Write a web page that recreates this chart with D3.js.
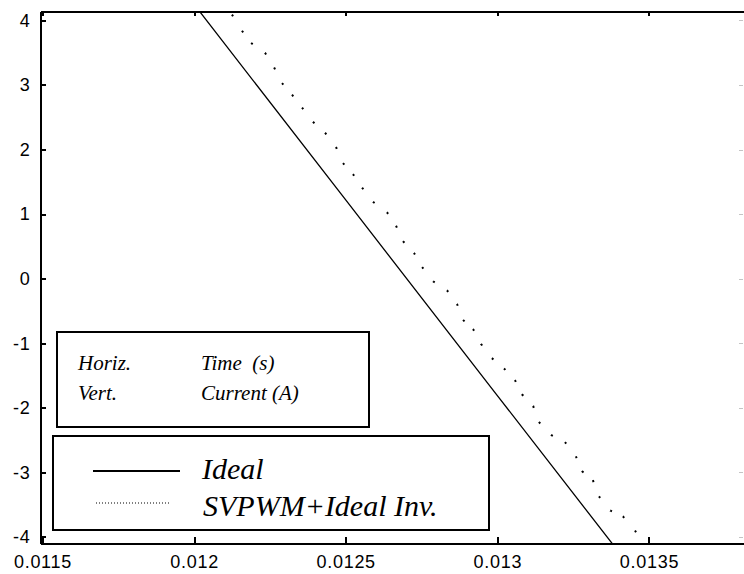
<!DOCTYPE html>
<meta charset="utf-8">
<style>
    body {
        margin: 0;
        background-color: #fff;
    }
    .axis text {
        font: 18px "Liberation Sans", Arial, sans-serif;
        letter-spacing: 0.7px;
        fill: #000;
    }
    .axis path,
    .axis line {
        fill: none;
        stroke: #000;
        stroke-width: 2px;
        shape-rendering: crispEdges;
    }
    .axis--right path {
        stroke: none;
    }
    .axis--right line {
        stroke: #c4c4c4;
        stroke-width: 1px;
    }
    .line-ideal {
        fill: none;
        stroke: #000;
        stroke-width: 1.3px;
    }
    .line-svpwm {
        fill: none;
        stroke: #000;
        stroke-width: 2px;
    }
    .box {
        fill: #fff;
        stroke: #000;
        stroke-width: 2px;
        shape-rendering: crispEdges;
    }
    .note text {
        font: italic 21px "Liberation Serif", "Times New Roman", serif;
        white-space: pre;
    }
    .legend text {
        font: italic 30px "Liberation Serif", "Times New Roman", serif;
    }
</style>
<body>
<svg width="744" height="574"></svg>
<script src="https://d3js.org/d3.v7.min.js"></script>
<script>
    // tick labels
    var xTicks = [0.0115, 0.012, 0.0125, 0.013, 0.0135];
    var yTicks = [-4, -3, -2, -1, 0, 1, 2, 3, 4];

    // Ideal current (straight through the zero crossing)
    var idealTime    = [0.01200, 0.01250, 0.01300, 0.01340];
    var idealCurrent = [4.25, 1.22, -1.81, -4.23];

    // SVPWM + ideal inverter (read dot by dot)
    var svpwmTime = [0.012125, 0.012158, 0.012188, 0.012234, 0.012264, 0.012290, 0.012323,
        0.012356, 0.012392, 0.012432, 0.012468, 0.012491, 0.012524, 0.012554, 0.012590,
        0.012636, 0.012666, 0.012689, 0.012725, 0.012752, 0.012788, 0.012834, 0.012867,
        0.012887, 0.012920, 0.012946, 0.012982, 0.013022, 0.013058, 0.013081, 0.013118,
        0.013137, 0.013177, 0.013223, 0.013259, 0.013279, 0.013315, 0.013335, 0.013372,
        0.013414, 0.013454, 0.013477];
    var svpwmCurrent = [4.09, 3.84, 3.65, 3.50, 3.27, 3.03, 2.85,
        2.65, 2.43, 2.26, 2.04, 1.79, 1.62, 1.41, 1.19,
        1.03, 0.82, 0.58, 0.40, 0.18, -0.04, -0.18, -0.39,
        -0.64, -0.78, -1.01, -1.23, -1.39, -1.57, -1.79, -1.97,
        -2.22, -2.42, -2.53, -2.75, -2.98, -3.12, -3.37, -3.59,
        -3.68, -3.90, -4.10];

    var seriesNames = ["Ideal", "SVPWM+Ideal Inv."];
    var noteLeft = ["Horiz.", "Vert."];
    var noteRight = ["Time  (s)", "Current (A)"];

    var svg = d3.select("svg"),
        plot = {left: 40, top: 11, right: 743, bottom: 543};

    var x = d3.scaleLinear().domain([0.011492, 0.01381]).range([plot.left, plot.right]);
    var y = d3.scaleLinear().domain([-4.093, 4.146]).range([plot.bottom, plot.top]);

    svg.append("rect")
        .attr("width", 744)
        .attr("height", 574)
        .attr("fill", "#fff");

    svg.append("clipPath")
        .attr("id", "clip")
        .append("rect")
        .attr("x", plot.left)
        .attr("y", plot.top)
        .attr("width", plot.right - plot.left)
        .attr("height", plot.bottom - plot.top);

    // lines
    var idealData = idealTime.map(function(t, i) { return {t: t, v: idealCurrent[i]}; });
    var svpwmData = svpwmTime.map(function(t, i) { return {t: t, v: svpwmCurrent[i]}; });

    var line = d3.line()
        .x(function(d) { return x(d.t); })
        .y(function(d) { return y(d.v); });

    var lines = svg.append("g").attr("clip-path", "url(#clip)");

    lines.append("path")
        .datum(idealData)
        .attr("class", "line-ideal")
        .attr("d", line);

    // one dot on each read point
    var dash = [];
    for (var i = 1; i < svpwmData.length; i++) {
        var L = Math.hypot(x(svpwmData[i].t) - x(svpwmData[i - 1].t), y(svpwmData[i].v) - y(svpwmData[i - 1].v));
        dash.push(2, Math.max(L - 2, 0.1));
    }
    lines.append("path")
        .datum(svpwmData)
        .attr("class", "line-svpwm")
        .attr("stroke-dasharray", dash.join(","))
        .attr("d", line);

    // axes
    svg.append("g")
        .attr("class", "axis axis--x")
        .attr("transform", "translate(0," + plot.bottom + ")")
        .call(d3.axisBottom(x).tickValues(xTicks).tickSizeInner(-6).tickSizeOuter(0).tickPadding(12)
            .tickFormat(function(d) { return String(d); }));

    svg.append("g")
        .attr("class", "axis axis--top")
        .attr("transform", "translate(0," + plot.top + ")")
        .call(d3.axisTop(x).tickValues(xTicks).tickSizeInner(-5).tickSizeOuter(0).tickFormat(""));

    svg.append("g")
        .attr("class", "axis axis--y")
        .attr("transform", "translate(" + plot.left + ",0)")
        .call(d3.axisLeft(y).tickValues(yTicks).tickSizeInner(-6).tickSizeOuter(0).tickPadding(9.5)
            .tickFormat(function(d) { return String(d); }));

    svg.append("g")
        .attr("class", "axis axis--right")
        .attr("transform", "translate(" + plot.right + ",0)")
        .call(d3.axisRight(y).tickValues(yTicks).tickSizeInner(-4).tickSizeOuter(0).tickFormat(""));

    // axis note box
    var note = svg.append("g").attr("class", "note");
    note.append("rect")
        .attr("class", "box")
        .attr("x", 57).attr("y", 332)
        .attr("width", 312).attr("height", 95);
    note.selectAll(".note-left")
        .data(noteLeft)
        .enter().append("text")
        .attr("x", 78)
        .attr("y", function(d, i) { return 370 + i * 30; })
        .text(function(d) { return d; });
    note.selectAll(".note-right")
        .data(noteRight)
        .enter().append("text")
        .attr("x", 201)
        .attr("y", function(d, i) { return 370 + i * 30; })
        .text(function(d) { return d; });

    // legend
    var legend = svg.append("g").attr("class", "legend");
    legend.append("rect")
        .attr("class", "box")
        .attr("x", 53).attr("y", 436)
        .attr("width", 436).attr("height", 94);

    legend.append("line")
        .attr("x1", 93).attr("x2", 180)
        .attr("y1", 471).attr("y2", 471)
        .attr("stroke", "#000")
        .attr("stroke-width", 2);
    legend.append("line")
        .attr("x1", 96).attr("x2", 171)
        .attr("y1", 503).attr("y2", 503)
        .attr("stroke", "#000")
        .attr("stroke-width", 1.2)
        .attr("stroke-dasharray", "1,2");

    legend.selectAll(".name")
        .data(seriesNames)
        .enter().append("text")
        .attr("class", "name")
        .attr("x", function(d, i) { return 202 + i; })
        .attr("y", function(d, i) { return 479 + i * 37; })
        .text(function(d) { return d; });
</script>
</body>
